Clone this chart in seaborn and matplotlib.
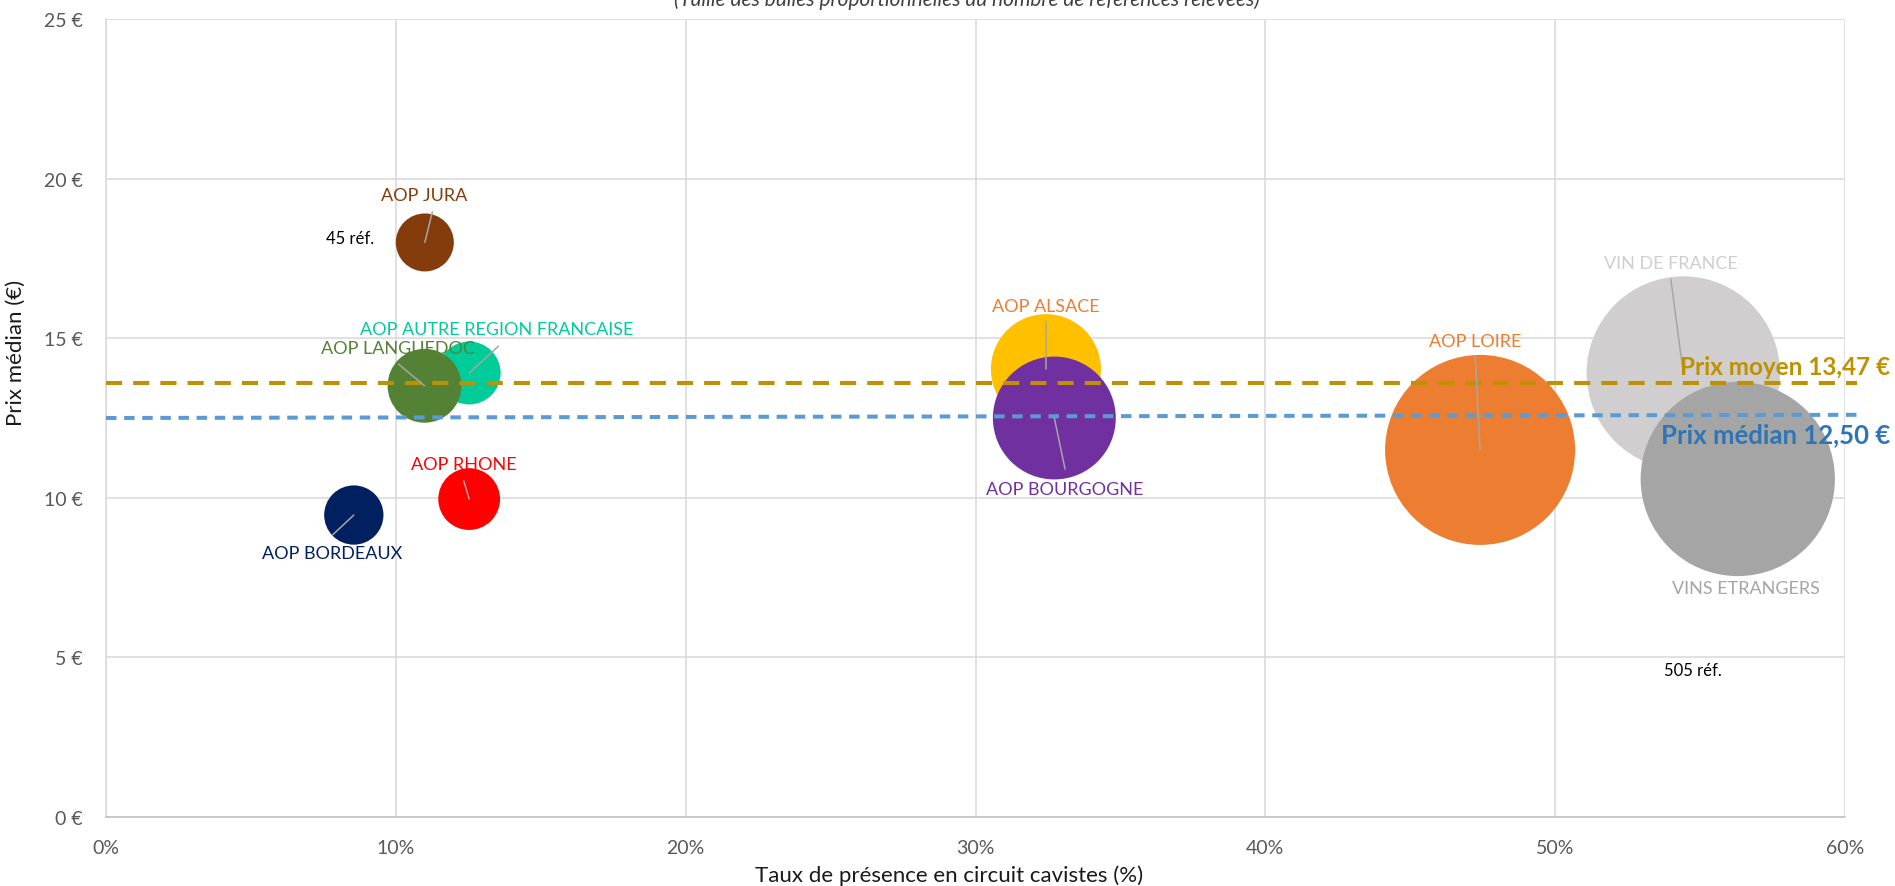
import numpy as np
import pandas as pd
import seaborn as sns
import matplotlib.pyplot as plt
from matplotlib.ticker import FuncFormatter

# data
categories = ["AOP BORDEAUX", "AOP RHONE", "AOP AUTRE REGION FRANCAISE", "AOP LANGUEDOC",
              "AOP JURA", "AOP ALSACE", "AOP BOURGOGNE", "AOP LOIRE",
              "VIN DE FRANCE", "VINS ETRANGERS"]
presence = [8.55, 12.53, 12.53, 10.99, 11.0, 32.43, 32.72, 47.41, 54.42, 56.3]
prix = [9.46, 9.96, 13.91, 13.51, 18.0, 14.03, 12.5, 11.5, 13.91, 10.59]
refs = [47, 51, 53, 73, 45, 162, 202, 483, 500, 505]

prix_moyen = 13.47
prix_median = 12.50
mean_line_x = [0, 60.4]
mean_line_y = [13.6, 13.6]
median_line_x = [0, 60.4]
median_line_y = [12.5, 12.6]

x_ticks = [0, 10, 20, 30, 40, 50, 60]
y_ticks = [0, 5, 10, 15, 20, 25]

bubble_colors = ["#002060", "#FF0000", "#00CC99", "#548235", "#843C0C",
                 "#FFC000", "#7030A0", "#ED7D31", "#D0CECE", "#A5A5A5"]
label_colors = ["#002060", "#FF0000", "#00CC99", "#548235", "#843C0C",
                "#ED7D31", "#7030A0", "#ED7D31", "#D0CECE", "#A5A5A5"]

# label positions and leader line ends (data units)
label_pos = [(7.80, 8.26), (12.34, 11.05), (13.49, 15.29), (10.08, 14.69), (10.97, 19.49),
             (32.41, 16.02), (33.09, 10.28), (47.24, 14.92), (53.98, 17.36), (56.59, 7.16)]
leader_end = [(7.82, 8.84), (12.34, 10.54), (13.54, 14.75), (10.09, 14.19), (11.26, 18.96),
              (32.43, 15.5), (33.09, 10.9), (47.24, 14.43), (53.99, 16.85), None]

df = pd.DataFrame({"cat": categories, "x": presence, "y": prix, "refs": refs})

sns.set_theme(style="white")
plt.rcParams["font.family"] = ["Lato", "DejaVu Sans"]

fig = plt.figure(figsize=(18.95, 8.87), dpi=100)
ax = fig.add_axes([106 / 1895, 69 / 887, 1739 / 1895, 798 / 887])

# bubble area proportional to number of references
max_s = (58 * 0.72) ** 2 * 505 / 45
sns.scatterplot(data=df, x="x", y="y", hue="cat", palette=dict(zip(categories, bubble_colors)),
                size="refs", sizes=(0, max_s), size_norm=(0, 505), linewidth=0,
                alpha=1, legend=False, ax=ax, zorder=3)

ax.plot(mean_line_x, mean_line_y, color="#BF9000", lw=2.9, dashes=(4, 2.75),
        zorder=4, clip_on=False)
ax.plot(median_line_x, median_line_y, color="#5B9BD5", lw=2.9, dashes=(2.6, 1.9),
        zorder=4, clip_on=False)

for i, cat in enumerate(categories):
    if leader_end[i] is not None:
        ax.plot([presence[i], leader_end[i][0]], [prix[i], leader_end[i][1]],
                color="#A6A6A6", lw=1.1, zorder=5)
    ax.text(label_pos[i][0], label_pos[i][1], cat, color=label_colors[i], fontsize=13,
            ha="center", va="center", zorder=6)

ax.text(8.42, 18.14, "45 réf.", fontsize=12, color="black", ha="center", va="center")
ax.text(54.76, 4.6, "505 réf.", fontsize=12, color="black", ha="center", va="center")

fmt = lambda v: ("%.2f" % v).replace(".", ",")
ax.text(61.55, 14.1, "Prix moyen %s €" % fmt(prix_moyen), color="#BF9000", fontsize=17.5,
        fontweight="bold", ha="right", va="center", zorder=7, clip_on=False)
ax.text(61.55, 12.0, "Prix médian %s €" % fmt(prix_median), color="#2E75B6", fontsize=18.5,
        fontweight="bold", ha="right", va="center", zorder=7, clip_on=False)

ax.set_xlim(0, 60)
ax.set_ylim(0, 25)
ax.set_xticks(x_ticks)
ax.set_yticks(y_ticks)
ax.xaxis.set_major_formatter(FuncFormatter(lambda v, p: "%d%%" % v))
ax.yaxis.set_major_formatter(FuncFormatter(lambda v, p: "%d €" % v))
ax.tick_params(axis="x", length=0, pad=16, labelsize=14, labelcolor="#595959")
ax.tick_params(axis="y", length=0, pad=17, labelsize=14, labelcolor="#595959")

ax.grid(True, color="#D9D9D9", lw=1.1)
ax.set_axisbelow(True)
for side in ["top", "right"]:
    ax.spines[side].set_visible(False)
ax.spines["bottom"].set_color("#BFBFBF")
ax.spines["bottom"].set_linewidth(1.1)
ax.spines["left"].set_color("#D9D9D9")
ax.spines["left"].set_linewidth(1.1)

ax.set_xlabel("Taux de présence en circuit cavistes (%)", fontsize=16, color="#1A1A1A")
ax.set_ylabel("Prix médian (€)", fontsize=16, color="#1A1A1A")
ax.xaxis.set_label_coords(0.485, -0.0595)
ax.yaxis.set_label_coords(-0.046, 0.583)

fig.text(967 / 1895, 1 - 6 / 887, "(Taille des bulles proportionnelles au nombre de références relevées)",
         fontsize=15, style="italic", color="#404040", ha="center", va="baseline")

fig.savefig("out.png", dpi=100)
